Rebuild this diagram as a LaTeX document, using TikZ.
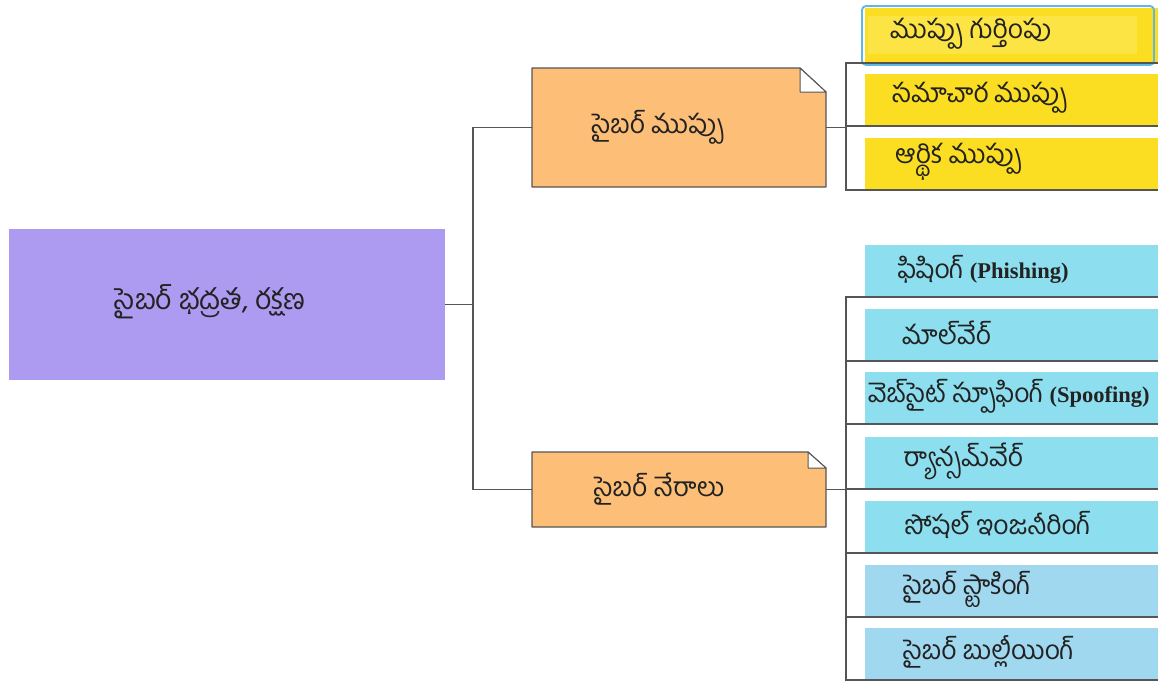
\documentclass[tikz,border=0pt]{standalone}
\usepackage{fontspec}
\setmainfont{Liberation Serif}
\newfontfamily\te[Script=Telugu]{Hind Guntur}
\newcommand\latb{\rmfamily\bfseries\fontsize{22.5}{26}\selectfont}
\usetikzlibrary{calc}
\definecolor{purp}{HTML}{AC9BF1}
\definecolor{orng}{HTML}{FDBF77}
\definecolor{yel}{HTML}{FBDD22}
\definecolor{yelin}{HTML}{FCE445}
\definecolor{cyn}{HTML}{8DDEEE}
\definecolor{lblu}{HTML}{A0D8F0}
\definecolor{linegray}{HTML}{555555}
\definecolor{selblue}{HTML}{5DB8E2}
\definecolor{txt}{HTML}{222222}
\begin{document}
\begin{tikzpicture}[x=1pt,y=-1pt,
  conn/.style={draw=linegray, line width=1.3pt},
  itembox/.style={rectangle, anchor=north west, minimum width=293pt, minimum height=52pt, inner sep=0pt, outer sep=0pt},
  ybox/.style={itembox, fill=yel},
  cbox/.style={itembox, fill=cyn},
  bbox/.style={itembox, fill=lblu},
  notebox/.style={rectangle, anchor=north west, minimum width=294pt, inner sep=0pt, outer sep=0pt},
  tl/.style={font=\te\fontsize{26.5}{30}\selectfont, text=txt, inner sep=0pt},
  til/.style={tl, anchor=west}
]
\useasboundingbox (0,0) rectangle (1158,681);

% root
\node[rectangle, fill=purp, anchor=north west, minimum width=436pt, minimum height=151pt, inner sep=0pt, outer sep=0pt] (p) at (9,229) {};
\node[tl, font=\te\fontsize{28.5}{32}\selectfont] (pt) at ($(p.center)+(-17,-3)$) {సైబర్ భద్రత, రక్షణ};

% notes
\node[notebox, minimum height=119pt] (o1) at (532,68) {};
\fill[orng] (o1.north west) -- ([xshift=-26pt]o1.north east) -- ([yshift=-24pt]o1.north east) -- (o1.south east) -- (o1.south west) -- cycle;
\draw[linegray, line width=1.2pt, line join=round] (o1.north west) -- ([xshift=-26pt]o1.north east) -- ([yshift=-24pt]o1.north east) -- (o1.south east) -- (o1.south west) -- cycle;
\draw[linegray, line width=1pt, fill=white, line join=round] ([xshift=-26pt]o1.north east) -- ([xshift=-26pt,yshift=-24pt]o1.north east) -- ([yshift=-24pt]o1.north east) -- cycle;
\node[tl] (o1t) at ($(o1.center)+(-21,0)$) {సైబర్ ముప్పు};

\node[notebox, minimum height=75pt] (o2) at (532,452) {};
\fill[orng] (o2.north west) -- ([xshift=-18pt]o2.north east) -- ([yshift=-16pt]o2.north east) -- (o2.south east) -- (o2.south west) -- cycle;
\draw[linegray, line width=1.2pt, line join=round] (o2.north west) -- ([xshift=-18pt]o2.north east) -- ([yshift=-16pt]o2.north east) -- (o2.south east) -- (o2.south west) -- cycle;
\draw[linegray, line width=1pt, fill=white, line join=round] ([xshift=-18pt]o2.north east) -- ([xshift=-18pt,yshift=-16pt]o2.north east) -- ([yshift=-16pt]o2.north east) -- cycle;
\node[tl] (o2t) at ($(o2.center)+(-20,0)$) {సైబర్ నేరాలు};

% yellow items
\node[ybox, minimum height=55pt] (y1) at (865,8) {};
\fill[yelin] ($(y1.north west)+(3,8)$) rectangle ($(y1.south east)+(-21,-9)$);
\draw[selblue, line width=1.8pt, rounded corners=4pt] ($(y1.north west)+(-3,-2)$) rectangle ($(y1.south east)+(-4,2)$);
\node[ybox] (y2) at (865,74) {};
\node[ybox] (y3) at (865,138) {};
\node[til] at ($(y1.west)+(25,-2)$) {ముప్పు గుర్తింపు};
\node[til] at ($(y2.west)+(27,-2)$) {సమాచార ముప్పు};
\node[til] at ($(y3.west)+(30,-2)$) {ఆర్థిక ముప్పు};

% blue items
\node[cbox] (c1) at (865,245) {};
\node[cbox] (c2) at (865,309) {};
\node[cbox] (c3) at (865,372) {};
\node[cbox] (c4) at (865,437) {};
\node[cbox] (c5) at (865,501) {};
\node[bbox] (c6) at (865,565) {};
\node[bbox] (c7) at (865,628) {};
\node[til] at ($(c1.west)+(33,-2)$) {ఫిషింగ్ {\latb (Phishing)}};
\node[til] at ($(c2.west)+(37,-2)$) {మాల్‌వేర్};
\node[til] at ($(c3.west)+(3,-2)$) {వెబ్‌సైట్ స్పూఫింగ్ {\latb (Spoofing)}};
\node[til] at ($(c4.west)+(38,-2)$) {ర్యాన్సమ్‌వేర్};
\node[til] at ($(c5.west)+(40,-2)$) {సోషల్ ఇంజనీరింగ్};
\node[til] at ($(c6.west)+(38,-2)$) {సైబర్ స్టాకింగ్};
\node[til] at ($(c7.west)+(38,-2)$) {సైబర్ బుల్లీయింగ్};

% spines
\coordinate (sp0) at (473,0);
\coordinate (sp1) at (846,0);

\draw[conn] (p.east) -- (p.east -| sp0);
\draw[conn] (o1.west) -- (o1.west -| sp0) -- (o2.west -| sp0) -- (o2.west);

\draw[conn] (o1.east) -- (o1.east -| sp1);
\draw[conn] (y1.south east) -- (y1.south east -| sp1) -- (y3.south east -| sp1) -- (y3.south east);
\draw[conn] (y2.south east) -- (y2.south east -| sp1);

\draw[conn] (o2.east) -- (o2.east -| sp1);
\draw[conn] (c1.south east) -- (c1.south east -| sp1) -- (c7.south east -| sp1) -- (c7.south east);
\draw[conn] (c2.south east) -- (c2.south east -| sp1);
\draw[conn] (c3.south east) -- (c3.south east -| sp1);
\draw[conn] (c4.south east) -- (c4.south east -| sp1);
\draw[conn] (c5.south east) -- (c5.south east -| sp1);
\draw[conn] (c6.south east) -- (c6.south east -| sp1);
\end{tikzpicture}
\end{document}
